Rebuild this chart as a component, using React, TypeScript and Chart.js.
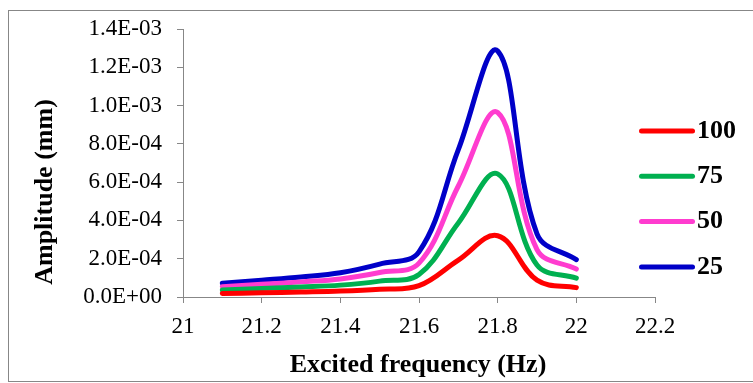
import React, { useEffect, useRef } from 'react';
import { Chart, registerables } from 'chart.js';

Chart.register(...registerables);

// ---- data ----
const frequencies = [21.1, 21.2, 21.3, 21.4, 21.5, 21.6, 21.7, 21.8, 21.9, 22.0];
const amp100 = [1.8e-5, 2.2e-5, 2.6e-5, 3.1e-5, 4.1e-5, 5.9e-5, 1.93e-4, 3.2e-4, 8.8e-5, 4.9e-5];
const amp75 = [3.6e-5, 4.4e-5, 5.2e-5, 6.2e-5, 8.3e-5, 1.18e-4, 3.87e-4, 6.43e-4, 1.67e-4, 9.8e-5];
const amp50 = [5.4e-5, 6.6e-5, 7.9e-5, 9.4e-5, 1.28e-4, 1.77e-4, 5.8e-4, 9.64e-4, 2.48e-4, 1.46e-4];
const amp25 = [7.2e-5, 8.8e-5, 1.05e-4, 1.27e-4, 1.72e-4, 2.36e-4, 7.7e-4, 1.285e-3, 3.3e-4, 1.95e-4];

const seriesLabels = ['100', '75', '50', '25'];
const seriesValues = [amp100, amp75, amp50, amp25];
const seriesColors = ['#FF0000', '#00B050', '#FF3CCF', '#0000C8'];

const xMin = 21;
const xMax = 22.2;
const xStep = 0.2;
const yMin = 0;
const yMax = 1.4e-3;
const yStep = 2e-4;

const xTitle = 'Excited frequency (Hz)';
const yTitle = 'Amplitude (mm)';

const SERIF = "'Liberation Serif', 'Times New Roman', serif";
const AXIS_GRAY = '#878787';

function fmtExp(v: number): string {
  if (Math.abs(v) < 1e-12) return '0.0E+00';
  let e = Math.floor(Math.log10(Math.abs(v)));
  let m = Math.round((v / Math.pow(10, e)) * 10) / 10;
  if (Math.abs(m) >= 10) {
    m = m / 10;
    e += 1;
  }
  if (Math.abs(m) < 1) {
    m = m * 10;
    e -= 1;
  }
  const sign = e < 0 ? '-' : '+';
  const ae = Math.abs(e);
  return m.toFixed(1) + 'E' + sign + (ae < 10 ? '0' + ae : String(ae));
}

const titlesAndLegend = {
  id: 'titlesAndLegend',
  afterDraw(chart: any) {
    const ctx = chart.ctx as CanvasRenderingContext2D;
    const area = chart.chartArea;
    ctx.save();
    ctx.fillStyle = '#000';
    ctx.font = `bold 26px ${SERIF}`;
    ctx.textAlign = 'center';
    ctx.textBaseline = 'middle';
    // x title
    ctx.fillText(xTitle, (area.left + area.right) / 2 - 1, 365);
    // y title
    ctx.save();
    ctx.translate(45, 192);
    ctx.rotate(-Math.PI / 2);
    ctx.fillText(yTitle, 0, 0);
    ctx.restore();

    // legend
    const ds = chart.data.datasets;
    ctx.textAlign = 'left';
    for (let i = 0; i < ds.length; i++) {
      const y = 131 + i * 45.3;
      ctx.beginPath();
      ctx.lineCap = 'round';
      ctx.lineWidth = 5;
      ctx.strokeStyle = ds[i].borderColor;
      ctx.moveTo(641.5, y);
      ctx.lineTo(692.5, y);
      ctx.stroke();
      ctx.fillStyle = '#000';
      ctx.fillText(ds[i].label, 697, y);
    }
    ctx.restore();
  },
};

export default function App() {
  const canvasRef = useRef<HTMLCanvasElement | null>(null);

  useEffect(() => {
    const canvas = canvasRef.current;
    if (!canvas) return;
    const datasets = seriesLabels.map((label, i) => ({
      label,
      data: frequencies.map((f, j) => ({ x: f, y: seriesValues[i][j] })),
      borderColor: seriesColors[i],
      backgroundColor: seriesColors[i],
      borderWidth: 5,
      borderCapStyle: 'round' as const,
      borderJoinStyle: 'round' as const,
      pointRadius: 0,
      tension: 0.38,
      fill: false,
    }));

    const chart = new Chart(canvas, {
      type: 'line',
      data: { datasets },
      options: {
        responsive: false,
        animation: false,
        devicePixelRatio: 1,
        layout: { padding: { left: 0, right: 98, top: 29, bottom: 0 } },
        plugins: {
          legend: { display: false },
          tooltip: { enabled: false },
        },
        scales: {
          x: {
            type: 'linear',
            min: xMin,
            max: xMax,
            afterFit: (scale: any) => {
              scale.height = 86;
            },
            ticks: {
              stepSize: xStep,
              padding: 10,
              color: '#000',
              font: { family: SERIF, size: 23 },
              maxRotation: 0,
              autoSkip: false,
              callback: (v: any) => String(Math.round(Number(v) * 10) / 10),
            },
            grid: {
              display: true,
              drawOnChartArea: false,
              drawTicks: true,
              tickLength: 6,
              color: AXIS_GRAY,
              lineWidth: 1,
            },
            border: { display: true, color: AXIS_GRAY, width: 1 },
          },
          y: {
            type: 'linear',
            min: yMin,
            max: yMax,
            afterFit: (scale: any) => {
              scale.width = 183;
            },
            ticks: {
              stepSize: yStep,
              padding: 15,
              color: '#000',
              font: { family: SERIF, size: 23 },
              autoSkip: false,
              callback: (v: any) => fmtExp(Number(v)),
            },
            grid: {
              display: true,
              drawOnChartArea: false,
              drawTicks: true,
              tickLength: 6,
              color: AXIS_GRAY,
              lineWidth: 1,
            },
            border: { display: true, color: AXIS_GRAY, width: 1 },
          },
        },
      },
      plugins: [titlesAndLegend],
    });
    return () => chart.destroy();
  }, []);

  return (
    <div
      style={{
        position: 'fixed',
        left: 0,
        top: 0,
        width: 753,
        height: 383,
        overflow: 'hidden',
        background: '#fff',
      }}
    >
      <div
        style={{
          position: 'absolute',
          left: 8,
          top: 10,
          width: 800,
          height: 372,
          boxSizing: 'border-box',
          border: `1px solid ${AXIS_GRAY}`,
        }}
      />
      <canvas
        ref={canvasRef}
        width={753}
        height={383}
        style={{ position: 'absolute', left: 0, top: 0, width: 753, height: 383 }}
      />
    </div>
  );
}
